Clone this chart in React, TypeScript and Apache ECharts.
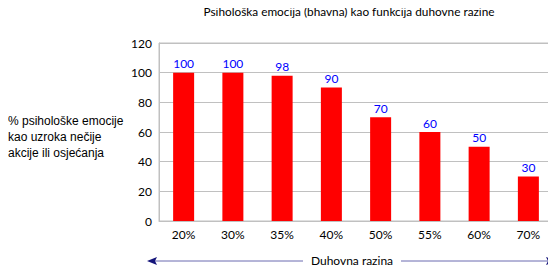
import React, { useEffect, useRef } from "react";
import * as echarts from "echarts";

const categories = ["20%", "30%", "35%", "40%", "50%", "55%", "60%", "70%"];
const values = [100, 100, 98, 90, 70, 60, 50, 30];
const titleText = "Psihološka emocija (bhavna) kao funkcija duhovne razine";
const yNameLines = ["% psihološke emocije", "kao uzroka nečije", "akcije ili osjećanja"];
const xName = "Duhovna razina";

const FONT = "Lato, 'Open Sans', sans-serif";

export default function App() {
  const ref = useRef<HTMLDivElement>(null);
  useEffect(() => {
    if (!ref.current) return;
    const chart = echarts.init(ref.current, undefined, { renderer: "svg" });
    const arrowY = 261;
    chart.setOption({
      animation: false,
      textStyle: { fontFamily: FONT },
      grid: {
        left: 159,
        right: 3,
        top: 43,
        bottom: 53,
        show: true,
        borderColor: "#c0c0c0",
        borderWidth: 1,
        containLabel: false,
      },
      xAxis: {
        type: "category",
        data: categories,
        axisLine: { show: true, lineStyle: { color: "#c0c0c0" } },
        axisTick: { show: false },
        axisLabel: { color: "#000", fontSize: 12, margin: 7, fontFamily: FONT },
      },
      yAxis: {
        type: "value",
        min: 0,
        max: 120,
        interval: 20,
        axisLine: { show: true, lineStyle: { color: "#c0c0c0" } },
        axisTick: { show: false },
        splitLine: { lineStyle: { color: "#c0c0c0" } },
        axisLabel: { color: "#000", fontSize: 12, margin: 7, fontFamily: FONT },
      },
      series: [
        {
          type: "bar",
          data: values,
          barWidth: 21,
          itemStyle: { color: "#ff0000" },
          label: {
            show: true,
            position: "top",
            distance: 3,
            color: "#0000ff",
            fontSize: 12,
            fontFamily: FONT,
          },
        },
      ],
      graphic: [
        {
          type: "text",
          x: 349,
          y: 11,
          style: {
            text: titleText,
            fill: "#000",
            font: `11.8px ${FONT}`,
            align: "center",
            verticalAlign: "middle",
          },
        },
        {
          type: "text",
          left: 8,
          top: 113,
          style: {
            text: yNameLines.join("\n"),
            fontSize: 12,
            lineHeight: 16,
            fill: "#000",
            font: `12px ${FONT}`,
          },
        },
        {
          type: "line",
          shape: { x1: 152, y1: arrowY, x2: 303, y2: arrowY },
          style: { stroke: "#6a6ab0", lineWidth: 1 },
        },
        {
          type: "line",
          shape: { x1: 401, y1: arrowY, x2: 550, y2: arrowY },
          style: { stroke: "#6a6ab0", lineWidth: 1 },
        },
        {
          type: "polygon",
          shape: { points: [[147, arrowY], [157, arrowY - 4], [155, arrowY], [157, arrowY + 4]] },
          style: { fill: "#14147a" },
        },
        {
          type: "polygon",
          shape: { points: [[556, arrowY], [546, arrowY - 4], [548, arrowY], [546, arrowY + 4]] },
          style: { fill: "#14147a" },
        },
        {
          type: "text",
          x: 352,
          y: arrowY - 1,
          style: {
            text: xName,
            fill: "#000",
            font: `12px ${FONT}`,
            align: "center",
            verticalAlign: "middle",
          },
        },
      ],
    });
    return () => chart.dispose();
  }, []);
  return <div ref={ref} style={{ width: 556, height: 274, margin: -8 }} />;
}
